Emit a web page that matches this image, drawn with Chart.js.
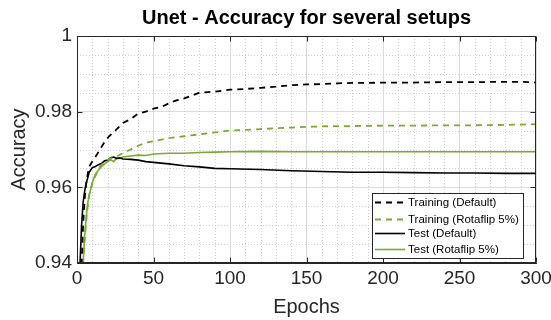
<!DOCTYPE html>
<html>
<head>
<meta charset="utf-8">
<script src="https://cdn.jsdelivr.net/npm/chart.js@4.4.1/dist/chart.umd.min.js"></script>
<style>
  html, body { margin: 0; padding: 0; background: #fff; }
  #wrap { width: 551px; height: 320px; position: relative; }
</style>
</head>
<body>
<div id="wrap"><canvas id="c" width="551" height="320"></canvas></div>
<script>
// ---- Data ----
const seriesLabels = ['Training (Default)', 'Training (Rotaflip 5%)', 'Test (Default)', 'Test (Rotaflip 5%)'];

const trainDefaultEpochs = [2,3,4,5,6,7,8,10,12,15,18,21,25,30,35,40,45,50,55,60,65,70,80,90,100,110,120,130,140,150,160,170,180,190,200,220,240,260,280,290,300];
const trainDefaultAcc    = [0.925,0.940,0.950,0.957,0.961,0.9635,0.9655,0.9668,0.968,0.970,0.972,0.9735,0.975,0.977,0.978,0.9795,0.980,0.9808,0.9812,0.9822,0.983,0.9835,0.985,0.9853,0.9858,0.986,0.9863,0.9866,0.987,0.9872,0.9873,0.9875,0.9876,0.9876,0.9877,0.9877,0.9878,0.9878,0.9879,0.9879,0.9877];

const trainRotaEpochs = [3,4,5,6,7,8,10,12,15,18,21,25,30,35,40,45,50,60,70,80,90,100,110,120,130,140,150,160,170,180,200,220,240,260,280,290,300];
const trainRotaAcc    = [0.925,0.940,0.946,0.951,0.955,0.958,0.961,0.963,0.9655,0.9668,0.9675,0.968,0.969,0.970,0.971,0.9718,0.9722,0.973,0.9735,0.974,0.9745,0.975,0.9752,0.9754,0.9756,0.9758,0.976,0.9761,0.9762,0.9762,0.9763,0.9763,0.9764,0.9764,0.9765,0.9766,0.9767];

const testDefaultEpochs = [1,2,3,4,5,6,7,8,10,12,14,16,18,20,22,24,26,28,30,35,40,45,50,60,70,80,90,100,120,140,160,180,200,220,240,260,280,300];
const testDefaultAcc    = [0.905,0.940,0.950,0.956,0.959,0.961,0.9625,0.964,0.9652,0.9655,0.966,0.9663,0.967,0.9672,0.9678,0.968,0.9676,0.9678,0.9675,0.9674,0.9672,0.9668,0.9666,0.9662,0.9657,0.9654,0.965,0.9649,0.9647,0.9644,0.9642,0.964,0.964,0.9639,0.9638,0.9638,0.9637,0.9637];

const testRotaEpochs = [3,4,5,6,7,8,10,12,14,16,18,20,22,24,26,28,30,35,40,45,50,60,70,80,90,100,120,140,160,180,200,240,300];
const testRotaAcc    = [0.920,0.940,0.947,0.952,0.9558,0.958,0.9612,0.9635,0.9645,0.9655,0.9662,0.9668,0.9673,0.9668,0.9678,0.9676,0.968,0.9683,0.9685,0.9684,0.9688,0.969,0.969,0.9692,0.9693,0.9694,0.9695,0.9694,0.9694,0.9694,0.9694,0.9694,0.9694];

const xTicks = [0, 50, 100, 150, 200, 250, 300];
const yTicks = [0.94, 0.96, 0.98, 1];

// ---- Styling ----
const GREEN = '#77AC30';
const BLACK = '#000000';
const AXIS = '#262626';
const FONT = "'Liberation Sans', Arial, Helvetica, sans-serif";

function pts(xs, ys) { return xs.map((x, i) => ({ x: x, y: ys[i] })); }

const datasets = [
  { label: seriesLabels[0], data: pts(trainDefaultEpochs, trainDefaultAcc), borderColor: BLACK, borderDash: [6, 5], borderWidth: 1.8 },
  { label: seriesLabels[1], data: pts(trainRotaEpochs, trainRotaAcc), borderColor: GREEN, borderDash: [6, 5], borderWidth: 1.8 },
  { label: seriesLabels[2], data: pts(testDefaultEpochs, testDefaultAcc), borderColor: BLACK, borderWidth: 1.6 },
  { label: seriesLabels[3], data: pts(testRotaEpochs, testRotaAcc), borderColor: GREEN, borderWidth: 1.6 }
].map(d => Object.assign({ pointRadius: 0, fill: false, tension: 0, backgroundColor: d.borderColor }, d));

// Minor grid (dotted) drawn from the library's own scales
const minorGrid = {
  id: 'minorGrid',
  beforeDatasetsDraw(chart) {
    const { ctx, chartArea: a, scales: { x, y } } = chart;
    ctx.save();
    ctx.strokeStyle = '#cfcfcf';
    ctx.lineWidth = 1;
    ctx.setLineDash([1, 2]);
    for (let e = 10; e < 300; e += 10) {
      if (e % 50 === 0) continue;
      const px = Math.round(x.getPixelForValue(e)) + 0.5;
      ctx.beginPath(); ctx.moveTo(px, a.top); ctx.lineTo(px, a.bottom); ctx.stroke();
    }
    for (let k = 1; k < 12; k++) {
      if (k % 4 === 0) continue;
      const v = 0.94 + k * 0.005;
      const py = Math.round(y.getPixelForValue(v)) + 0.5;
      ctx.beginPath(); ctx.moveTo(a.left, py); ctx.lineTo(a.right, py); ctx.stroke();
    }
    ctx.restore();
  }
};

// Box and inward ticks (MATLAB style)
const boxTicks = {
  id: 'boxTicks',
  afterDatasetsDraw(chart) {
    const { ctx, chartArea: a, scales: { x, y } } = chart;
    ctx.save();
    ctx.strokeStyle = AXIS;
    ctx.lineWidth = 1;
    ctx.setLineDash([]);
    const L = Math.round(a.left) + 0.5, R = Math.round(a.right) - 0.5;
    const T = Math.round(a.top) + 0.5, B = Math.round(a.bottom) - 0.5;
    ctx.strokeRect(L, T, R - L, B - T);
    const tl = 5;
    xTicks.forEach(v => {
      const px = Math.round(x.getPixelForValue(v)) + 0.5;
      ctx.beginPath(); ctx.moveTo(px, B); ctx.lineTo(px, B - tl); ctx.stroke();
      ctx.beginPath(); ctx.moveTo(px, T); ctx.lineTo(px, T + tl); ctx.stroke();
    });
    yTicks.forEach(v => {
      const py = Math.round(y.getPixelForValue(v)) + 0.5;
      ctx.beginPath(); ctx.moveTo(L, py); ctx.lineTo(L + tl, py); ctx.stroke();
      ctx.beginPath(); ctx.moveTo(R, py); ctx.lineTo(R - tl, py); ctx.stroke();
    });
    ctx.restore();
  }
};

// Legend box inside the axes, lower right
const insideLegend = {
  id: 'insideLegend',
  afterDraw(chart) {
    const { ctx, chartArea: a } = chart;
    const w = 151, h = 65;
    const x0 = Math.round(a.right - 13 - w), y0 = Math.round(a.bottom - 5 - h);
    ctx.save();
    ctx.fillStyle = '#ffffff';
    ctx.fillRect(x0, y0, w, h);
    ctx.strokeStyle = AXIS;
    ctx.lineWidth = 1;
    ctx.setLineDash([]);
    ctx.strokeRect(x0 + 0.5, y0 + 0.5, w, h);
    ctx.font = '11.5px ' + FONT;
    ctx.textBaseline = 'middle';
    ctx.fillStyle = '#000';
    const rows = [9, 25.5, 40, 56];
    chart.data.datasets.forEach((d, i) => {
      const yy = Math.round(y0 + rows[i]) + 0.5;
      ctx.strokeStyle = d.borderColor;
      ctx.lineWidth = d.borderWidth;
      ctx.setLineDash(d.borderDash || []);
      ctx.beginPath(); ctx.moveTo(x0 + 3, yy); ctx.lineTo(x0 + 33, yy); ctx.stroke();
      ctx.setLineDash([]);
      ctx.fillText(d.label, x0 + 36, yy);
    });
    ctx.restore();
  }
};

new Chart(document.getElementById('c'), {
  type: 'line',
  data: { datasets: datasets },
  plugins: [minorGrid, boxTicks, insideLegend],
  options: {
    responsive: false,
    animation: false,
    devicePixelRatio: 1,
    layout: { padding: { left: 0, right: 0, top: 0, bottom: 0 } },
    plugins: {
      legend: { display: false },
      tooltip: { enabled: false },
      title: {
        display: true,
        text: 'Unet - Accuracy for several setups',
        color: '#000',
        fullSize: false,
        font: { family: FONT, size: 20, weight: 'bold', lineHeight: 1.2 },
        padding: { top: 6, bottom: 6 }
      }
    },
    scales: {
      x: {
        type: 'linear', min: 0, max: 300,
        afterFit(s) { s.height = 57; s.paddingRight = 15; },
        afterBuildTicks(s) { s.ticks = xTicks.map(v => ({ value: v })); },
        ticks: { color: AXIS, font: { family: FONT, size: 19 }, padding: 4, maxRotation: 0 },
        grid: { color: '#dcdcdc', lineWidth: 1, drawTicks: false },
        border: { color: AXIS, width: 1 },
        title: { display: true, text: 'Epochs', color: AXIS, font: { family: FONT, size: 20 }, padding: { top: 0, bottom: 1 } }
      },
      y: {
        type: 'linear', min: 0.94, max: 1,
        afterFit(s) { s.width = 77; },
        afterBuildTicks(s) { s.ticks = yTicks.map(v => ({ value: v })); },
        ticks: { color: AXIS, font: { family: FONT, size: 19 }, padding: 5, callback: v => String(Number(v.toFixed(3))) },
        grid: { color: '#dcdcdc', lineWidth: 1, drawTicks: false },
        border: { color: AXIS, width: 1 },
        title: { display: true, text: 'Accuracy', color: AXIS, font: { family: FONT, size: 20 }, padding: { top: 7, bottom: 0 } }
      }
    }
  }
});
</script>
</body>
</html>
